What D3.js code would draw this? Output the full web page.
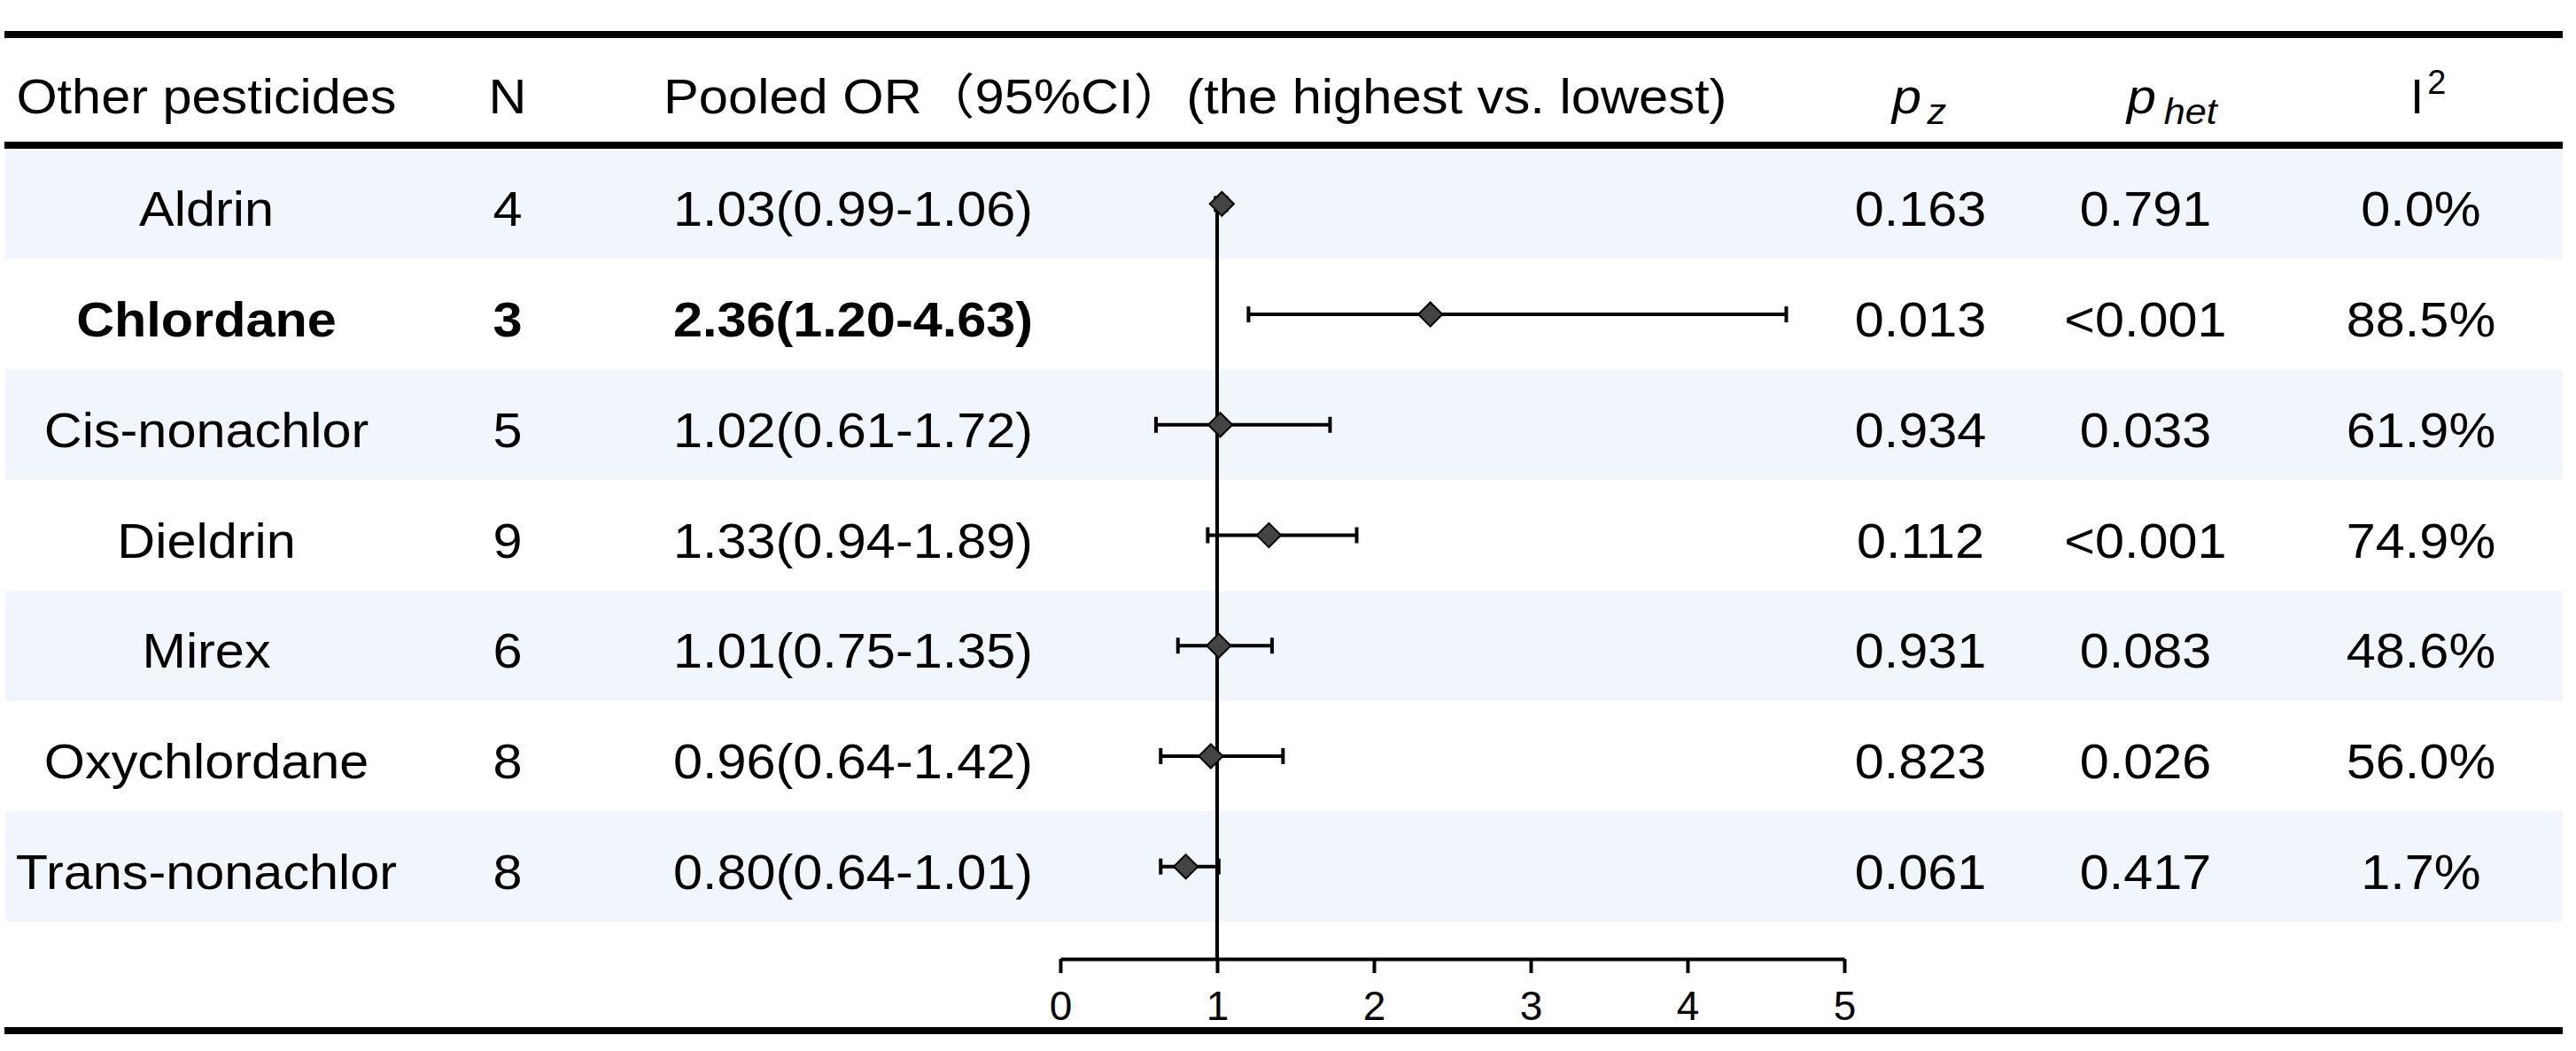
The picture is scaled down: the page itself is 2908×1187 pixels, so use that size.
<!DOCTYPE html>
<html>
<head>
<meta charset="utf-8">
<script src="https://cdn.jsdelivr.net/npm/d3@7"></script>
<style>
  html, body { margin: 0; padding: 0; background: #fff; }
  svg text { font-family: "Liberation Sans", Arial, "Noto Sans CJK SC", sans-serif; fill: #000; }
</style>
</head>
<body>
<svg id="chart" width="2908" height="1187"></svg>
<script>
// ---- Data ----
const names = ["Aldrin", "Chlordane", "Cis-nonachlor", "Dieldrin", "Mirex", "Oxychlordane", "Trans-nonachlor"];
const nStudies = [4, 3, 5, 9, 6, 8, 8];
const orVals = [1.03, 2.36, 1.02, 1.33, 1.01, 0.96, 0.80];
const ciLow = [0.99, 1.20, 0.61, 0.94, 0.75, 0.64, 0.64];
const ciHigh = [1.06, 4.63, 1.72, 1.89, 1.35, 1.42, 1.01];
const pZ = ["0.163", "0.013", "0.934", "0.112", "0.931", "0.823", "0.061"];
const pHet = ["0.791", "<0.001", "0.033", "<0.001", "0.083", "0.026", "0.417"];
const i2 = ["0.0%", "88.5%", "61.9%", "74.9%", "48.6%", "56.0%", "1.7%"];
const boldRows = ["Chlordane"];
const axisTicks = [0, 1, 2, 3, 4, 5];
const axisDomain = [0, 5];
const refValue = 1;

// ---- Layout ----
const svg = d3.select("#chart");
const FS = 55, SX = 1.08;
const colName = 233, colN = 573, colOR = 963, colPz = 2168, colPhet = 2422, colI2 = 2733;

const y = d3.scaleBand().domain(names).range([168, 1041]).paddingInner(0).paddingOuter(0);
const x = d3.scaleLinear().domain(axisDomain).range([1197, 2082]);
const axisY = 1083;

const rows = names.map((d, i) => ({
  name: d, n: nStudies[i], or: orVals[i], lo: ciLow[i], hi: ciHigh[i],
  pz: pZ[i], phet: pHet[i], i2: i2[i], bold: boldRows.includes(d), idx: i
}));

// bands
svg.append("g").selectAll("rect").data(rows.filter(r => r.idx % 2 === 0)).join("rect")
  .attr("x", 6).attr("width", 2887)
  .attr("y", r => y(r.name)).attr("height", y.bandwidth())
  .attr("fill", "#f0f6fb");

// rules
[39, 164, 1164].forEach(yy => {
  svg.append("line").attr("x1", 5).attr("x2", 2893).attr("y1", yy).attr("y2", yy)
    .attr("stroke", "#000").attr("stroke-width", 8);
});

function txt(g, str, xx, yy, opts = {}) {
  const t = g.append("text")
    .attr("transform", `translate(${xx},${yy}) scale(${opts.sx || SX},1)`)
    .attr("text-anchor", opts.anchor || "middle")
    .style("font-size", (opts.fs || FS) + "px")
    .style("font-weight", opts.bold ? "bold" : "normal")
    .text(str);
  if (opts.italic) t.style("font-style", "italic");
  return t;
}

// header
const hdr = svg.append("g");
const hb = 128;
txt(hdr, "Other pesticides", colName, hb);
txt(hdr, "N", colN, hb);
txt(hdr, "Pooled OR（95%CI）(the highest vs. lowest)", 749, hb, { anchor: "start", sx: 1.085 });
// p_z
const pz = hdr.append("text").attr("transform", `translate(2136,${hb}) scale(${SX},1)`).style("font-size", FS + "px");
pz.append("tspan").style("font-style", "italic").text("p");
pz.append("tspan").style("font-style", "italic").style("font-size", "40px").attr("dy", 12).attr("dx", 6).text("z");
// p_het
const ph = hdr.append("text").attr("transform", `translate(2401,${hb}) scale(${SX},1)`).style("font-size", FS + "px");
ph.append("tspan").style("font-style", "italic").text("p");
ph.append("tspan").style("font-style", "italic").style("font-size", "40px").attr("dy", 12).attr("dx", 8).text("het");
// I2
const ii = hdr.append("text").attr("transform", `translate(2721,${hb})`).style("font-size", FS + "px");
ii.append("tspan").text("I");
ii.append("tspan").style("font-size", "38px").attr("dy", -22).attr("dx", 4).text("2");

// body rows
const body = svg.append("g");
rows.forEach(r => {
  const cy = y(r.name) + y.bandwidth() / 2;
  const bl = cy + 25;
  txt(body, r.name, colName, bl, { bold: r.bold });
  txt(body, String(r.n), colN, bl, { bold: r.bold });
  txt(body, `${r.or.toFixed(2)}(${r.lo.toFixed(2)}-${r.hi.toFixed(2)})`, colOR, bl, { bold: r.bold });
  txt(body, r.pz, colPz, bl);
  txt(body, r.phet, colPhet, bl);
  txt(body, r.i2, colI2, bl);
});

// reference line
const firstCy = y(names[0]) + y.bandwidth() / 2;
svg.append("line").attr("x1", x(refValue)).attr("x2", x(refValue))
  .attr("y1", firstCy).attr("y2", axisY)
  .attr("stroke", "#000").attr("stroke-width", 4);

// axis
const axis = d3.axisBottom(x).tickValues(axisTicks).tickFormat(d3.format("d"))
  .tickSize(16).tickSizeOuter(0).tickPadding(20);
const ax = svg.append("g").attr("transform", `translate(0,${axisY})`).call(axis);
ax.attr("font-size", 46).attr("font-family", null);
ax.select(".domain").attr("stroke", "#000").attr("stroke-width", 4);
ax.selectAll(".tick line").attr("stroke", "#000").attr("stroke-width", 4);
ax.selectAll(".tick text").style("font-size", "46px").attr("fill", "#000");

// error bars and diamonds
const fg = svg.append("g");
rows.forEach(r => {
  const cy = y(r.name) + y.bandwidth() / 2;
  fg.append("line").attr("x1", x(r.lo)).attr("x2", x(r.hi)).attr("y1", cy).attr("y2", cy)
    .attr("stroke", "#000").attr("stroke-width", 4);
  [r.lo, r.hi].forEach(v => {
    fg.append("line").attr("x1", x(v)).attr("x2", x(v)).attr("y1", cy - 9).attr("y2", cy + 9)
      .attr("stroke", "#000").attr("stroke-width", 4);
  });
  fg.append("path")
    .attr("d", d3.symbol().type(d3.symbolSquare).size(370)())
    .attr("transform", `translate(${x(r.or)},${cy}) rotate(45)`)
    .attr("fill", "#444").attr("stroke", "#000").attr("stroke-width", 2);
});
</script>
</body>
</html>
